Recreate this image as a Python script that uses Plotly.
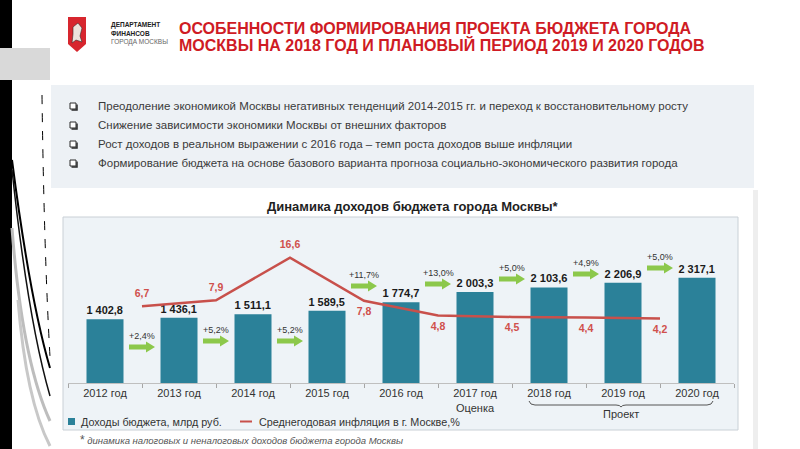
import plotly.graph_objects as go

# ---------------- data ----------------
years = ["2012 год", "2013 год", "2014 год", "2015 год", "2016 год",
         "2017 год", "2018 год", "2019 год", "2020 год"]
year_notes = ["", "", "", "", "", "Оценка", "", "", ""]
revenue = [1402.8, 1436.1, 1511.1, 1589.5, 1774.7, 2003.3, 2103.6, 2206.9, 2317.1]
inflation = [6.7, 7.9, 16.6, 7.8, 4.8, 4.5, 4.4, 4.2]
growth = ["+2,4%", "+5,2%", "+5,2%", "+11,7%", "+13,0%", "+5,0%", "+4,9%", "+5,0%"]
project_label = "Проект"
project_years = ["2018 год", "2019 год", "2020 год"]

title_lines = ["ОСОБЕННОСТИ ФОРМИРОВАНИЯ ПРОЕКТА БЮДЖЕТА ГОРОДА",
               "МОСКВЫ НА 2018 ГОД И ПЛАНОВЫЙ ПЕРИОД 2019 И 2020 ГОДОВ"]
dept_lines = ["ДЕПАРТАМЕНТ", "ФИНАНСОВ", "ГОРОДА МОСКВЫ"]
bullets = [
    "Преодоление экономикой Москвы негативных тенденций 2014-2015 гг. и переход к восстановительному росту",
    "Снижение зависимости экономики Москвы от внешних факторов",
    "Рост доходов в реальном выражении с 2016 года – темп роста доходов выше инфляции",
    "Формирование бюджета на основе базового варианта прогноза социально-экономического развития города",
]
chart_title = "Динамика доходов бюджета города Москвы*"
legend_names = ["Доходы бюджета, млрд руб.", "Среднегодовая инфляция в г. Москве,%"]
footnote = "динамика налоговых и неналоговых доходов бюджета города Москвы"

# ---------------- styles / geometry ----------------
W, H = 800, 449
FONT = "Liberation Sans, Arial, sans-serif"
BAR_C = "#2B8199"
LINE_C = "#C8504B"
LABEL_RED = "#D0504C"
ARROW_C = "#8CC84B"
X0, X1 = 68, 734          # plot area (px)
YB, YT = 383, 225
BAR_SCALE = 22.0          # value per pixel
Y2_A, Y2_B = 339, 4.9     # line axis mapping
ARROW_Y = [347, 341, 341, 286, 284, 279, 274, 268]
infl_pos = ["top center"] * 3 + ["bottom center"] * 5


def fx(x):
    return x / W


def fy(y):
    return 1 - y / H


def ru(v):
    return f"{v:,.1f}".replace(",", " ").replace(".", ",")


def ppath(pts, close=False):
    s = "M " + " L ".join(f"{fx(x):.5f},{fy(y):.5f}" for x, y in pts)
    return s + (" Z" if close else "")


fig = go.Figure()

fig.add_trace(go.Bar(
    x=years, y=revenue, width=0.5, marker=dict(color=BAR_C, line=dict(width=0)),
    text=[ru(v) for v in revenue], textposition="outside", cliponaxis=False,
    textfont=dict(family=FONT, size=11.5, color="#1A1A1A", weight="bold"),
    showlegend=False, hoverinfo="skip",
))

fig.add_trace(go.Scatter(
    x=[i + 0.5 for i in range(len(inflation))], y=inflation,
    xaxis="x2", yaxis="y2", mode="lines+markers+text",
    line=dict(color=LINE_C, width=2.5),
    marker=dict(size=9, color="rgba(0,0,0,0)"),
    text=[ru(v) for v in inflation], textposition=infl_pos,
    textfont=dict(family=FONT, size=10.5, color=LABEL_RED, weight="bold"),
    cliponaxis=False, showlegend=False, hoverinfo="skip",
))

shapes = []
ann = []

# left decoration
shapes.append(dict(type="rect", xref="paper", yref="paper", x0=0, x1=fx(12), y0=0, y1=1,
                   fillcolor="#000000", line=dict(width=0), layer="below"))
shapes.append(dict(type="rect", xref="paper", yref="paper", x0=0, x1=fx(50), y0=fy(80), y1=fy(48),
                   fillcolor="#D9D9D9", line=dict(width=0), layer="below"))
for (p0, c, p1, col, wd, dash) in [
        ((42, 95), (44, 250), (50, 357), "#000000", 1, "dash"),
        ((12, 160), (30, 300), (50, 368), "#000000", 2, "solid"),
        ((12, 170), (28, 320), (50, 396), "#111111", 1.5, "solid"),
        ((12, 228), (22, 360), (50, 421), "#BDBDBD", 3, "solid"),
        ((18, 300), (26, 400), (50, 446), "#C8C8C8", 3, "solid")]:
    shapes.append(dict(type="path", xref="paper", yref="paper",
                       path=f"M {fx(p0[0])},{fy(p0[1])} Q {fx(c[0])},{fy(c[1])} {fx(p1[0])},{fy(p1[1])}",
                       line=dict(color=col, width=wd, dash=dash), layer="below"))

# logo shield
shapes.append(dict(type="path", xref="paper", yref="paper",
                   path=ppath([(68, 17), (86, 17), (86, 44), (77, 52), (68, 44)], True),
                   fillcolor="#D7262E", line=dict(width=0)))
shapes.append(dict(type="path", xref="paper", yref="paper",
                   path=ppath([(73, 27), (78, 23), (82, 28), (80, 36), (82, 42), (76, 40), (72, 43), (73, 34)], True),
                   fillcolor="#EDE3DC", line=dict(color="#3A2A2A", width=0.6)))
for i, t in enumerate(dept_lines):
    ann.append(dict(x=fx(109), y=fy(25 + 8.5 * i), xref="paper", yref="paper", text=t, showarrow=False,
                    xanchor="left", yanchor="middle",
                    font=dict(family=FONT, size=6.5, color="#222" if i < 2 else "#666",
                              weight="bold" if i < 2 else "normal")))
for i, t in enumerate(title_lines):
    ann.append(dict(x=fx(177), y=fy(28 + 17 * i), xref="paper", yref="paper", text=t, showarrow=False,
                    xanchor="left", yanchor="middle",
                    font=dict(family=FONT, size=16, color="#CF1B24", weight="bold")))

# bullet panel
shapes.append(dict(type="rect", xref="paper", yref="paper", x0=fx(51), x1=fx(754), y0=fy(188), y1=fy(85),
                   fillcolor="#EDF1F5", line=dict(width=0), layer="below"))
for i, t in enumerate(bullets):
    yy = 106 + 19 * i
    shapes.append(dict(type="rect", xref="paper", yref="paper", x0=fx(70), x1=fx(76),
                       y0=fy(yy + 3), y1=fy(yy - 3), fillcolor="#FFFFFF",
                       line=dict(color="#2A2A2A", width=1)))
    shapes.append(dict(type="path", xref="paper", yref="paper",
                       path=ppath([(71.5, yy + 4), (77, yy + 4), (77, yy - 1.5)]),
                       line=dict(color="#2A2A2A", width=1.5)))
    ann.append(dict(x=fx(96), y=fy(yy), xref="paper", yref="paper", text=t, showarrow=False,
                    xanchor="left", yanchor="middle",
                    font=dict(family=FONT, size=11.5, color="#3A3A3A")))

# right faint strip
shapes.append(dict(type="rect", xref="paper", yref="paper", x0=fx(753), x1=fx(758), y0=0, y1=fy(190),
                   fillcolor="#EEEEEE", line=dict(width=0), layer="below"))

# chart title & box
ann.append(dict(x=fx(413), y=fy(206), xref="paper", yref="paper", text=chart_title, showarrow=False,
                xanchor="center", yanchor="middle",
                font=dict(family=FONT, size=13, color="#1F1F1F", weight="bold")))
shapes.append(dict(type="rect", xref="paper", yref="paper", x0=fx(63), x1=fx(738), y0=fy(430), y1=fy(217),
                   fillcolor="#EEF3F7", line=dict(color="#C9D0D6", width=1), layer="below"))

# growth arrows
for i, (g, ay) in enumerate(zip(growth, ARROW_Y)):
    c = i + 0.5
    d = 1 / (X1 - X0) * 9  # data units per px
    shaft = [(c - 13 * d, ay - 2.5), (c + 4 * d, ay - 2.5), (c + 4 * d, ay - 5.5), (c + 13 * d, ay),
             (c + 4 * d, ay + 5.5), (c + 4 * d, ay + 2.5), (c - 13 * d, ay + 2.5)]
    pth = "M " + " L ".join(f"{x:.4f},{fy(y):.5f}" for x, y in shaft) + " Z"
    shapes.append(dict(type="path", xref="x2", yref="paper", path=pth,
                       fillcolor=ARROW_C, line=dict(width=0)))
    ann.append(dict(x=c, y=fy(ay - 11), xref="x2", yref="paper", text=g, showarrow=False,
                    xanchor="center", yanchor="middle",
                    font=dict(family=FONT, size=9, color="#333")))

# project bracket
bx0, bx1, by = 529, 713, 405
mid = (bx0 + bx1) / 2
shapes.append(dict(type="path", xref="paper", yref="paper",
                   path=(f"M {fx(bx0)},{fy(by-4)} Q {fx(bx0+1)},{fy(by)} {fx(bx0+6)},{fy(by)} "
                         f"L {fx(mid-5)},{fy(by)} Q {fx(mid-1)},{fy(by)} {fx(mid)},{fy(by+2)} "
                         f"Q {fx(mid+1)},{fy(by)} {fx(mid+5)},{fy(by)} "
                         f"L {fx(bx1-6)},{fy(by)} Q {fx(bx1-1)},{fy(by)} {fx(bx1)},{fy(by-4)}"),
                   line=dict(color="#555", width=1)))
ann.append(dict(x=fx(mid), y=fy(414), xref="paper", yref="paper", text=project_label, showarrow=False,
                xanchor="center", yanchor="middle", font=dict(family=FONT, size=11, color="#333")))

# custom legend
shapes.append(dict(type="rect", xref="paper", yref="paper", x0=fx(68), x1=fx(75), y0=fy(425), y1=fy(418),
                   fillcolor=BAR_C, line=dict(width=0)))
ann.append(dict(x=fx(79), y=fy(421.5), xref="paper", yref="paper", text=legend_names[0], showarrow=False,
                xanchor="left", yanchor="middle", font=dict(family=FONT, size=10.8, color="#333")))
shapes.append(dict(type="line", xref="paper", yref="paper", x0=fx(240), x1=fx(252), y0=fy(421.5), y1=fy(421.5),
                   line=dict(color=LINE_C, width=2)))
ann.append(dict(x=fx(257), y=fy(421.5), xref="paper", yref="paper", text=legend_names[1], showarrow=False,
                xanchor="left", yanchor="middle", font=dict(family=FONT, size=10.8, color="#333")))

# footnote
ann.append(dict(x=fx(78), y=fy(440), xref="paper", yref="paper",
                text="<span style='font-size:12px;font-style:normal'>*</span> " + footnote,
                showarrow=False, xanchor="left", yanchor="middle",
                font=dict(family=FONT, size=9.5, color="#555", style="italic")))

ticktext = [y if n == "" else f"{y}<br>{n}" for y, n in zip(years, year_notes)]

fig.update_layout(
    width=W, height=H, margin=dict(l=0, r=0, t=0, b=0, pad=0),
    paper_bgcolor="#FFFFFF", plot_bgcolor="rgba(0,0,0,0)",
    shapes=shapes, annotations=ann, showlegend=False, bargap=0.5,
    xaxis=dict(type="category", domain=[fx(X0), fx(X1)], range=[-0.5, 8.5],
               tickvals=years, ticktext=ticktext, tickson="boundaries",
               ticks="outside", ticklen=4, tickcolor="#A6A6A6", showline=True,
               linecolor="#BFBFBF", linewidth=1, showgrid=False, zeroline=False,
               tickfont=dict(family=FONT, size=11, color="#333"), fixedrange=True),
    yaxis=dict(domain=[fy(YB), fy(YT)], range=[0, (YB - YT) * BAR_SCALE], visible=False,
               fixedrange=True),
    xaxis2=dict(overlaying="x", range=[-0.5, 8.5], visible=False, anchor="y2", fixedrange=True),
    yaxis2=dict(overlaying="y", anchor="x2",
                range=[(Y2_A - YB) / Y2_B, (Y2_A - YT) / Y2_B], visible=False, fixedrange=True),
)

fig.write_html("out.html", config={"displayModeBar": False},
               post_script="document.body.style.margin='0';document.body.style.overflow='hidden';")
